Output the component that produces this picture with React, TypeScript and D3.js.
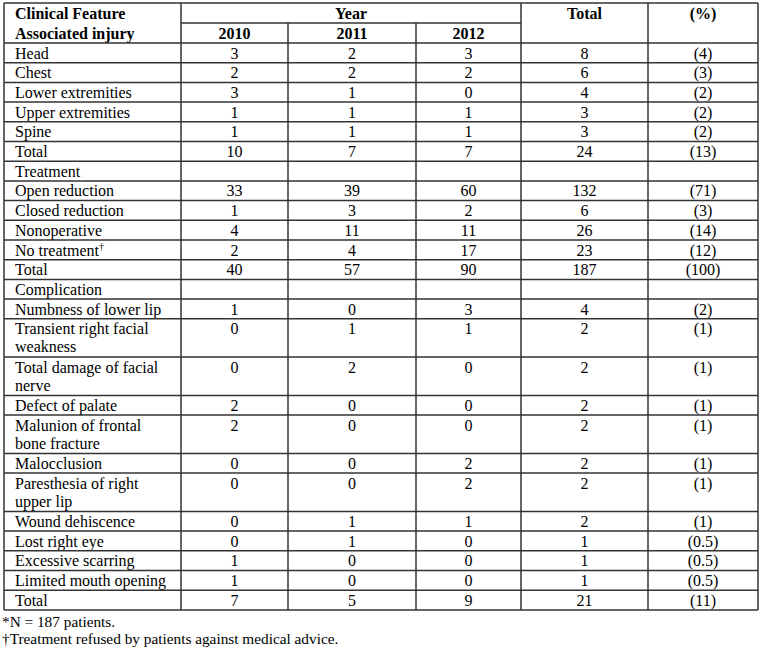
import React from 'react';
import * as d3 from 'd3';

// table content
const rowLabels = [
  'Head', 'Chest', 'Lower extremities', 'Upper extremities', 'Spine', 'Total',
  'Treatment', 'Open reduction', 'Closed reduction', 'Nonoperative', 'No treatment', 'Total',
  'Complication', 'Numbness of lower lip', 'Transient right facial\nweakness',
  'Total damage of facial\nnerve', 'Defect of palate', 'Malunion of frontal\nbone fracture',
  'Malocclusion', 'Paresthesia of right\nupper lip', 'Wound dehiscence', 'Lost right eye',
  'Excessive scarring', 'Limited mouth opening', 'Total',
];
const superscripts = ['', '', '', '', '', '', '', '', '', '', '\u2020', '', '', '', '', '', '', '', '', '', '', '', '', '', ''];
const y2010 = [3, 2, 3, 1, 1, 10, null, 33, 1, 4, 2, 40, null, 1, 0, 0, 2, 2, 0, 0, 0, 0, 1, 1, 7];
const y2011 = [2, 2, 1, 1, 1, 7, null, 39, 3, 11, 4, 57, null, 0, 1, 2, 0, 0, 0, 0, 1, 1, 0, 0, 5];
const y2012 = [3, 2, 0, 1, 1, 7, null, 60, 2, 11, 17, 90, null, 3, 1, 0, 0, 0, 2, 2, 1, 0, 0, 0, 9];
const totals = [8, 6, 4, 3, 3, 24, null, 132, 6, 26, 23, 187, null, 4, 2, 2, 2, 2, 2, 2, 2, 1, 1, 1, 21];
const percents = ['4', '3', '2', '2', '2', '13', null, '71', '3', '14', '12', '100', null, '2', '1', '1', '1', '1', '1', '1', '1', '0.5', '0.5', '0.5', '11'];

const headerLabels = ['Clinical Feature', 'Associated injury'];
const yearLabel = 'Year';
const years = ['2010', '2011', '2012'];
const totalLabel = 'Total';
const pctLabel = '(%)';
const footnotes = ['*N = 187 patients.', '\u2020Treatment refused by patients against medical advice.'];

// layout
const colEdges = [4, 181, 288, 416, 521, 648, 758];
const top = 3;
const headH = 20;
const singleH = 19.7;
const extraLineH = 18.6;
const lineGap = 18;
const font = '"Liberation Serif", "Times New Roman", serif';
const stroke = '#333';

export default function App() {
  const valueCols = [y2010, y2011, y2012, totals, percents.map((p) => (p == null ? null : `(${p})`))];

  const centers = d3.pairs(colEdges).map(([a, b]) => (a + b) / 2);
  const colX = d3.scaleOrdinal<number, number>().domain(d3.range(6)).range(centers);

  const lines = rowLabels.map((l) => l.split('\n'));
  const heights = lines.map((ls) => singleH + (ls.length - 1) * extraLineH);
  const bodyTop = top + headH * 2;
  const rowTops = [bodyTop, ...Array.from(d3.cumsum(heights)).map((h) => bodyTop + h)];
  const bottom = rowTops[rowTops.length - 1];

  const yearMid = (colEdges[1] + colEdges[4]) / 2;

  return (
    <div style={{ position: 'absolute', left: 0, top: 0 }}>
      <svg width={760} height={649} style={{ display: 'block', background: '#fff' }} fontFamily={font}>
        {/* header */}
        <g fontWeight="bold" fontSize={16}>
          {headerLabels.map((t, i) => (
            <text key={t} x={15} y={top + 16 + i * headH}>{t}</text>
          ))}
          <text x={yearMid} y={top + 16} textAnchor="middle">{yearLabel}</text>
          {years.map((yr, i) => (
            <text key={yr} x={colX(i + 1)} y={top + headH + 16} textAnchor="middle">{yr}</text>
          ))}
          <text x={colX(4)} y={top + 16} textAnchor="middle">{totalLabel}</text>
          <text x={colX(5)} y={top + 16} textAnchor="middle">{pctLabel}</text>
        </g>

        {/* body */}
        <g fontSize={16}>
          {lines.map((ls, r) => (
            <g key={r}>
              <text x={15} y={rowTops[r] + 15.5}>
                {ls.map((l, j) => (
                  <tspan key={j} x={15} y={rowTops[r] + 15.5 + j * lineGap}>
                    {l}
                    {j === ls.length - 1 && superscripts[r] ? (
                      <tspan fontSize={10} dy={-6}>{superscripts[r]}</tspan>
                    ) : null}
                  </tspan>
                ))}
              </text>
              {valueCols.map((col, c) =>
                col[r] == null ? null : (
                  <text key={c} x={colX(c + 1)} y={rowTops[r] + 15.5} textAnchor="middle">
                    {col[r]}
                  </text>
                )
              )}
            </g>
          ))}
        </g>

        {/* grid */}
        <g stroke={stroke} strokeWidth={1.5} fill="none">
          <line x1={colEdges[0]} x2={colEdges[6]} y1={top} y2={top} />
          <line x1={colEdges[1]} x2={colEdges[4]} y1={top + headH} y2={top + headH} />
          {rowTops.map((y, i) => (
            <line key={i} x1={colEdges[0]} x2={colEdges[6]} y1={y} y2={y} />
          ))}
          {colEdges.map((x, i) => (
            <line key={i} x1={x} x2={x} y1={i === 2 || i === 3 ? top + headH : top} y2={bottom} />
          ))}
        </g>

        {/* notes */}
        <g fontSize={15.3}>
          {footnotes.map((f, i) => (
            <text key={i} x={2} y={bottom + 17 + i * 17}>{f}</text>
          ))}
        </g>
      </svg>
    </div>
  );
}
